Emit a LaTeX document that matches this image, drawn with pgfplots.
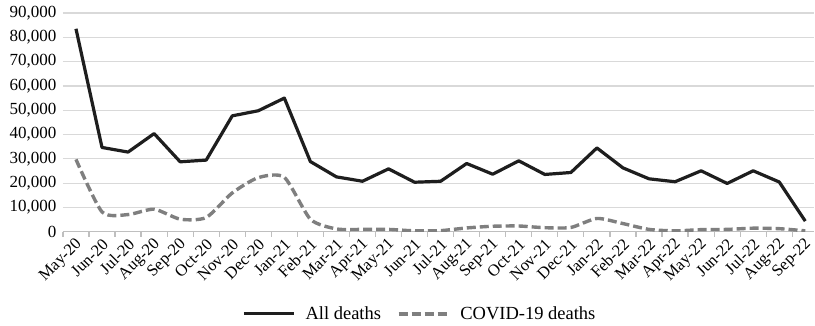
\documentclass[border=0pt]{standalone}
\usepackage{pgfplots}
\pgfplotsset{compat=1.18}
\usepackage{pgfplotstable}
\usepackage{fontspec}
\setmainfont{Liberation Serif}
\definecolor{gridc}{RGB}{217,217,217}
\definecolor{axc}{RGB}{191,191,191}
\definecolor{allc}{RGB}{30,30,30}
\definecolor{covc}{RGB}{127,127,127}
\pgfplotstableread{
x all cov
0 83500 29800
1 34700 8200
2 32800 7100
3 40400 9300
4 28800 5200
5 29500 5900
6 47700 16000
7 49800 22300
8 55000 22400
9 28900 5200
10 22600 1200
11 20800 1000
12 25900 1000
13 20400 400
14 20800 500
15 28100 1600
16 23700 2300
17 29200 2400
18 23600 1700
19 24400 1800
20 34500 5500
21 26300 3400
22 21800 1000
23 20600 400
24 25100 900
25 19900 1000
26 25100 1500
27 20500 1300
28 4400 400
}\data
\begin{document}
\begin{tikzpicture}
\begin{axis}[
  name=ax,
  scale only axis,
  width=752pt, height=219pt,
  xmin=-0.5, xmax=28.35,
  ymin=0, ymax=90000,
  axis x line*=bottom,
  axis y line*=left,
  y axis line style={draw=none},
  x axis line style={draw=axc, line width=1.2pt},
  ytick={0,10000,...,90000},
  scaled y ticks=false,
  /pgf/number format/.cd, 1000 sep={,}, assume math mode=true, /pgfplots/.cd,
  ymajorgrids,
  grid style={draw=gridc, line width=1.2pt},
  xtick={0,...,28},
  xticklabels={May-20,Jun-20,Jul-20,Aug-20,Sep-20,Oct-20,Nov-20,Dec-20,Jan-21,Feb-21,Mar-21,Apr-21,May-21,Jun-21,Jul-21,Aug-21,Sep-21,Oct-21,Nov-21,Dec-21,Jan-22,Feb-22,Mar-22,Apr-22,May-22,Jun-22,Jul-22,Aug-22,Sep-22},
  minor xtick={-0.5,0.5,...,27.5},
  major tick length=0pt,
  minor tick length=5pt,
  tick align=outside,
  tick style={draw=axc, line width=1.2pt},
  xticklabel style={xshift=3.5pt, yshift=-10pt, rotate=45, anchor=east, font=\fontsize{16.5}{19}\selectfont, inner sep=0pt},
  yticklabel style={font=\fontsize{17}{20}\selectfont, xshift=-3pt},
  legend style={at={(0.475,-0.375)}, anchor=center, draw=none, fill=none,
    font=\fontsize{18.5}{22}\selectfont, legend columns=2,
    /tikz/every even column/.append style={column sep=14pt}},
  legend image code/.code={\draw[#1] (0pt,0pt) -- (50pt,0pt); \path (58pt,0pt);},
]
\addplot[allc, line width=3.2pt, line join=round] table[x=x,y=all]{\data};
\addlegendentry{All deaths}
\addplot[covc, line width=3.4pt, dash pattern=on 9pt off 4pt, smooth, tension=0.4] table[x=x,y=cov]{\data};
\addlegendentry{COVID-19 deaths}
\end{axis}
\path (ax.south west) ++(-63pt,-90pt) coordinate (bl);
\path (ax.north east) ++(0pt,13pt) coordinate (tr);
\path (bl) (tr);
\end{tikzpicture}
\end{document}
